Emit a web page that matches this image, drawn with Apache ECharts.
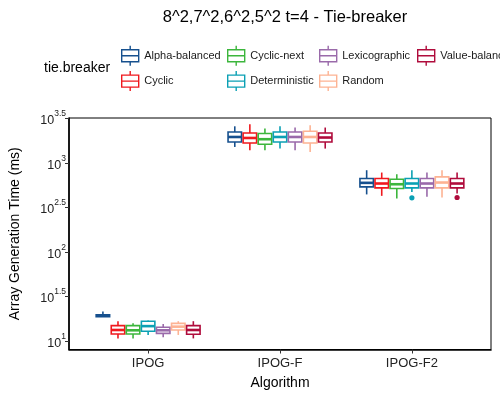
<!DOCTYPE html>
<html>
<head>
<meta charset="utf-8">
<script src="https://cdn.jsdelivr.net/npm/echarts@6/dist/echarts.min.js"></script>
<style>html,body{margin:0;padding:0;background:#fff}#c{width:500px;height:400px}</style>
</head>
<body>
<div id="c"></div>
<script>
// ---- data (ms): each entry [lowerWhisker, Q1, median, Q3, upperWhisker] per algorithm ----
const categories = ['IPOG', 'IPOG-F', 'IPOG-F2'];
const tieBreakers = ['Alpha-balanced', 'Cyclic', 'Cyclic-next', 'Deterministic', 'Lexicographic', 'Random', 'Value-balanced'];
const colors = ['#16508E', '#F0191E', '#3CB63C', '#0BA0B4', '#9A6AAA', '#FDB393', '#B00C3C'];
const yTickValues = [10, 31.6228, 100, 316.228, 1000, 3162.28];

const alphaBalanced = [[18.6, 18.8, 19.3, 19.7, 21.4], [1507, 1714, 1950, 2218, 2570], [442, 537, 596, 667, 826]];
const cyclic        = [[10.7, 12.0, 13.3, 14.9, 16.7], [1384, 1671, 1901, 2163, 2710], [426, 524, 586, 667, 778]];
const cyclicNext    = [[10.7, 12.0, 13.2, 14.9, 15.8], [1384, 1618, 1841, 2133, 2427], [398, 515, 575, 655, 745]];
const deterministic = [[11.7, 12.9, 14.7, 16.7, 17.0], [1445, 1714, 1950, 2218, 2570], [472, 524, 586, 667, 826]];
const lexicographic = [[11.0, 12.2, 13.2, 14.3, 15.5], [1384, 1714, 1950, 2218, 2489], [415, 524, 586, 667, 778]];
const random        = [[11.7, 13.3, 14.5, 15.8, 16.7], [1324, 1671, 1950, 2259, 2636], [408, 524, 601, 695, 826]];
const valueBalanced = [[10.7, 11.9, 13.3, 14.9, 16.7], [1445, 1714, 1923, 2163, 2489], [453, 524, 586, 667, 778]];
const outliers = [['Deterministic', 'IPOG-F2', 405], ['Value-balanced', 'IPOG-F2', 408]];

const seriesData = [alphaBalanced, cyclic, cyclicNext, deterministic, lexicographic, random, valueBalanced];

// ---- layout ----
const FONT = 'Liberation Sans, Arial, Helvetica, sans-serif';
const DODGE = 0.8;
const nGroups = tieBreakers.length;
const slot = DODGE / nGroups;
function offsetOf(gi) { return (gi - (nGroups - 1) / 2) * slot; }

function boxRenderer(gi) {
  return function (params, api) {
    const cat = api.value(0);
    const xc = cat + offsetOf(gi);
    const c = colors[gi];
    const xl = api.coord([xc - slot / 2, api.value(3)])[0];
    const xr = api.coord([xc + slot / 2, api.value(3)])[0];
    const xm = api.coord([xc, api.value(3)])[0];
    const yLo = api.coord([xc, api.value(1)])[1];
    const yQ1 = api.coord([xc, api.value(2)])[1];
    const yMed = api.coord([xc, api.value(3)])[1];
    const yQ3 = api.coord([xc, api.value(4)])[1];
    const yHi = api.coord([xc, api.value(5)])[1];
    const lw = 1.6;
    return {
      type: 'group',
      children: [
        { type: 'line', shape: { x1: xm, y1: yHi, x2: xm, y2: yQ3 }, style: { stroke: c, lineWidth: lw } },
        { type: 'line', shape: { x1: xm, y1: yQ1, x2: xm, y2: yLo }, style: { stroke: c, lineWidth: lw } },
        { type: 'rect', shape: { x: xl + lw / 2, y: yQ3, width: xr - xl - lw, height: yQ1 - yQ3 },
          style: { fill: '#fff', stroke: c, lineWidth: lw } },
        { type: 'line', shape: { x1: xl + lw / 2, y1: yMed, x2: xr - lw / 2, y2: yMed }, style: { stroke: c, lineWidth: 2.6 } }
      ]
    };
  };
}

const series = tieBreakers.map(function (name, gi) {
  return {
    name: name,
    type: 'custom',
    renderItem: boxRenderer(gi),
    encode: { x: 0, y: [1, 2, 3, 4, 5] },
    itemStyle: { color: colors[gi] },
    data: seriesData[gi].map(function (d, ci) { return [ci].concat(d); }),
    z: 3
  };
});

series.push({
  name: 'outliers',
  type: 'custom',
  renderItem: function (params, api) {
    const gi = api.value(0);
    const xc = api.value(1) + offsetOf(gi);
    const p = api.coord([xc, api.value(2)]);
    return { type: 'circle', shape: { cx: p[0], cy: p[1], r: 2.6 }, style: { fill: colors[gi] } };
  },
  encode: { x: 1, y: 2 },
  data: outliers.map(function (o) { return [tieBreakers.indexOf(o[0]), categories.indexOf(o[1]), o[2]]; }),
  z: 4
});

const legendIcon = 'path://M0.5,4L17.5,4L17.5,16L0.5,16Z M0.5,10L17.5,10 M9,0L9,4 M9,16L9,20';
function legendItem(name) {
  const gi = tieBreakers.indexOf(name);
  return { name: name, icon: legendIcon, itemStyle: { color: '#fff', borderColor: colors[gi], borderWidth: 1.4 } };
}
function legendCol(left, names) {
  return {
    orient: 'vertical', left: left, top: 45, itemGap: 4, itemWidth: 18, itemHeight: 20,
    padding: 0, selectedMode: false,
    textStyle: { fontFamily: FONT, fontSize: 11, color: '#1a1a1a' },
    data: names.map(legendItem)
  };
}

const chart = echarts.init(document.getElementById('c'), null, { renderer: 'canvas' });
chart.setOption({
  animation: false,
  backgroundColor: '#fff',
  title: [
    { text: '8^2,7^2,6^2,5^2 t=4 - Tie-breaker', left: 280, top: 4, textAlign: 'center',
      textStyle: { fontFamily: FONT, fontSize: 16.5, fontWeight: 'normal', color: '#000' } },
    { text: 'tie.breaker', left: 39, top: 56,
      textStyle: { fontFamily: FONT, fontSize: 14, fontWeight: 'normal', color: '#000' } }
  ],
  legend: [
    legendCol(121, ['Alpha-balanced', 'Cyclic']),
    legendCol(227, ['Cyclic-next', 'Deterministic']),
    legendCol(319, ['Lexicographic', 'Random']),
    legendCol(417, ['Value-balanced'])
  ],
  grid: { left: 68, right: 9, top: 118, bottom: 50.5, show: true, borderColor: '#000', borderWidth: 1, backgroundColor: '#fff' },
  xAxis: {
    type: 'value', min: -0.6, max: 2.6,
    splitLine: { show: false },
    axisLine: { show: true, onZero: false, lineStyle: { color: '#000', width: 1.6 } },
    axisTick: { show: true, customValues: [0, 1, 2], length: 4, lineStyle: { color: '#333' } },
    axisLabel: { customValues: [0, 1, 2], margin: 7, fontFamily: FONT, fontSize: 13, color: '#222',
      formatter: function (v) { return categories[Math.round(v)] || ''; } },
    name: 'Algorithm', nameLocation: 'middle', nameGap: 27,
    nameTextStyle: { fontFamily: FONT, fontSize: 14, color: '#000' }
  },
  yAxis: {
    type: 'log', logBase: 10, min: 8.035, max: 3185,
    splitLine: { show: false },
    axisLine: { show: true, onZero: false, lineStyle: { color: '#000', width: 1.6 } },
    axisTick: { show: true, customValues: yTickValues, length: 4, lineStyle: { color: '#333' } },
    axisLabel: {
      customValues: yTickValues, margin: 3, fontFamily: FONT, color: '#222',
      formatter: function (v) {
        const e = Math.round(Math.log10(v) * 10) / 10;
        return '{b|10}{s|' + e + '}';
      },
      rich: {
        b: { fontFamily: FONT, fontSize: 12.5, color: '#222', lineHeight: 18, verticalAlign: 'bottom' },
        s: { fontFamily: FONT, fontSize: 8.5, color: '#222', lineHeight: 18, verticalAlign: 'top' }
      }
    },
    name: 'Array Generation Time (ms)', nameLocation: 'middle', nameGap: 47,
    nameTextStyle: { fontFamily: FONT, fontSize: 14, color: '#000' }
  },
  series: series
});
</script>
</body>
</html>
